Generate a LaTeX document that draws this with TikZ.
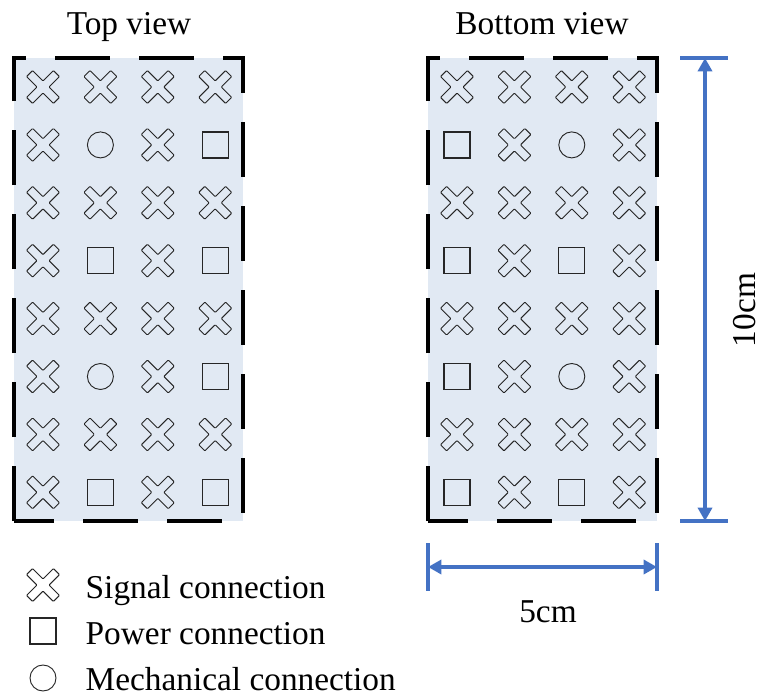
\documentclass[tikz,border=0pt]{standalone}
\usepackage{fontspec}
\setmainfont{Liberation Serif}
\usetikzlibrary{arrows.meta}

\definecolor{fond}{RGB}{225,233,243}
\definecolor{cote}{RGB}{68,114,196}

\tikzset{
  symbole/.style={line width=0.7pt, draw=black!85, rounded corners=0.6pt},
  bord/.style={line width=3pt, dash pattern=on 41pt off 22pt},
  ligne cote/.style={cote, line width=2.5pt},
  fleche cote/.style={ligne cote, {Triangle[length=10pt,width=10.5pt]}-{Triangle[length=10pt,width=10.5pt]}},
  texte/.style={font=\fontsize{25}{30}\selectfont}
}

% Symboles (centrés à l'origine)
\newcommand{\symX}{\draw[symbole, rotate=45] (4.3,4.3) -- (19,4.3) -- (19,-4.3) -- (4.3,-4.3)
  -- (4.3,-19) -- (-4.3,-19) -- (-4.3,-4.3) -- (-19,-4.3) -- (-19,4.3)
  -- (-4.3,4.3) -- (-4.3,19) -- (4.3,19) -- cycle;}
\newcommand{\symS}{\draw[symbole, line width=0.9pt, rounded corners=0pt] (-13,-13) rectangle (13,13);}
\newcommand{\symO}{\draw[symbole] (0,0) circle (13);}

\begin{document}
\begin{tikzpicture}[x=0.75pt, y=-0.75pt]
  \useasboundingbox (0,0) rectangle (763,696);

  % Titres
  \node[texte, anchor=base] (titreH) at (129,34) {Top view};
  \node[texte, anchor=base] (titreB) at (542,34) {Bottom view};

  % Boîtiers
  \fill[fond] (14,58) rectangle (243,521);
  \fill[fond] (428,58) rectangle (657,521);
  \draw[bord] (14,521) rectangle (243,58);
  \draw[bord] (428,521) rectangle (657,58);

  % Vue de dessus
  \foreach \ligne [count=\i] in {{X,X,X,X},{X,O,X,S},{X,X,X,X},{X,S,X,S},
                                 {X,X,X,X},{X,O,X,S},{X,X,X,X},{X,S,X,S}}
    \foreach \s [count=\j] in \ligne
      \begin{scope}[shift={({43+(\j-1)*57.4},{87+(\i-1)*57.9})}]
        \csname sym\s\endcsname
      \end{scope};

  % Vue de dessous (miroir)
  \foreach \ligne [count=\i] in {{X,X,X,X},{S,X,O,X},{X,X,X,X},{S,X,S,X},
                                 {X,X,X,X},{S,X,O,X},{X,X,X,X},{S,X,S,X}}
    \foreach \s [count=\j] in \ligne
      \begin{scope}[shift={({457+(\j-1)*57.4},{87+(\i-1)*57.9})}]
        \csname sym\s\endcsname
      \end{scope};

  % Cote verticale
  \coordinate (hautG) at (680,58);
  \coordinate (hautD) at (728,58);
  \coordinate (basG) at (680,521);
  \coordinate (basD) at (728,521);
  \coordinate (haut) at (705,58);
  \coordinate (bas) at (705,521);
  \draw[ligne cote] (hautG) -- (hautD);
  \draw[ligne cote] (basG) -- (basD);
  \draw[fleche cote] (haut) -- (bas);
  \node[texte, rotate=90, anchor=base, inner sep=0pt] (hauteur) at (755,310) {10cm};

  % Cote horizontale
  \coordinate (gH) at (428,543);
  \coordinate (gB) at (428,591);
  \coordinate (dH) at (657,543);
  \coordinate (dB) at (657,591);
  \coordinate (g) at (428,567);
  \coordinate (d) at (657,567);
  \draw[ligne cote] (gH) -- (gB);
  \draw[ligne cote] (dH) -- (dB);
  \draw[fleche cote] (g) -- (d);
  \node[texte, anchor=base] (largeur) at (548,622) {5cm};

  % Légende
  \begin{scope}[shift={(43,585)}] \symX \end{scope}
  \begin{scope}[shift={(43,631)}] \symS \end{scope}
  \begin{scope}[shift={(43,678)}] \symO \end{scope}
  \node[texte, anchor=base west] (legSignal) at (81,598) {Signal connection};
  \node[texte, anchor=base west] (legPower) at (81,644) {Power connection};
  \node[texte, anchor=base west] (legMeca) at (81,690) {Mechanical connection};
\end{tikzpicture}
\end{document}
